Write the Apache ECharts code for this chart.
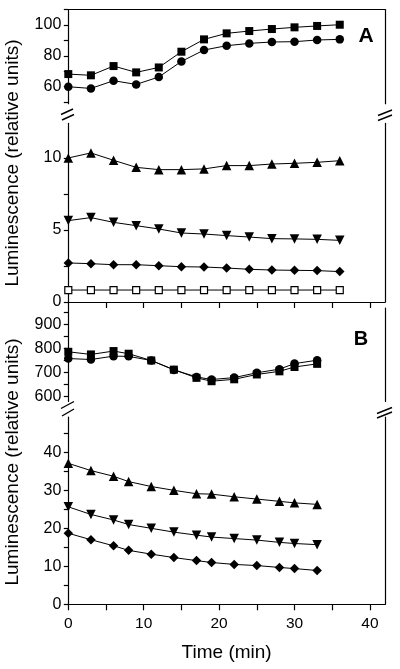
<!DOCTYPE html>
<html>
<head>
<meta charset="utf-8">
<script src="https://cdn.jsdelivr.net/npm/echarts@6/dist/echarts.min.js"></script>
<style>html,body{margin:0;padding:0;background:#fff}#c{width:400px;height:669px}</style>
</head>
<body>
<div id="c"></div>
<script>
// ---- data ----
const timeA = [0, 3, 6, 9, 12, 15, 18, 21, 24, 27, 30, 33, 36];
const timeB = [0, 3, 6, 8, 11, 14, 17, 19, 22, 25, 28, 30, 33];

const aSquares  = [68.2, 67.4, 73.4, 69.3, 72.5, 82.7, 90.7, 94.6, 96.1, 97.4, 98.5, 99.4, 100.2];
const aCircles  = [60.0, 58.9, 63.9, 61.5, 66.3, 76.4, 83.8, 86.6, 88.1, 89.0, 89.2, 90.3, 90.7];
const aTriUp    = [10.0, 10.35, 9.84, 9.35, 9.19, 9.19, 9.24, 9.47, 9.47, 9.58, 9.63, 9.70, 9.81];
const aTriDown  = [5.65, 5.86, 5.53, 5.30, 5.07, 4.79, 4.72, 4.61, 4.51, 4.40, 4.38, 4.35, 4.28];
const aDiamonds = [2.71, 2.66, 2.59, 2.59, 2.52, 2.45, 2.43, 2.36, 2.27, 2.22, 2.20, 2.18, 2.11];
const aOpenSq   = [0.83, 0.83, 0.83, 0.83, 0.83, 0.83, 0.83, 0.83, 0.83, 0.83, 0.83, 0.83, 0.83];

const bSquares  = [786, 775, 789, 778, 750, 712, 678, 664, 672, 692, 705, 723, 736];
const bCircles  = [758, 754, 768, 767, 750, 711, 682, 671, 679, 699, 714, 737, 751];
const bTriUp    = [37.1, 35.2, 33.7, 32.3, 31.0, 30.0, 29.1, 29.0, 28.3, 27.7, 27.1, 26.7, 26.3];
const bTriDown  = [25.65, 23.65, 22.2, 21.0, 20.0, 19.0, 18.2, 17.7, 17.3, 16.9, 16.3, 16.0, 15.7];
const bDiamonds = [18.7, 17.0, 15.4, 14.2, 13.2, 12.3, 11.5, 11.0, 10.5, 10.2, 9.7, 9.4, 8.9];

const xTicks = [0, 5, 10, 15, 20, 25, 30, 35, 40];
const xLabels = [0, 10, 20, 30, 40];
const aUpTicks = [50, 60, 70, 80, 90, 100, 110];
const aUpLabels = [60, 80, 100];
const aLoTicks = [0, 2.5, 5, 7.5, 10];
const aLoLabels = [0, 5, 10];
const bUpTicks = [600, 650, 700, 750, 800, 850, 900, 950];
const bUpLabels = [600, 700, 800, 900];
const bLoTicks = [0, 5, 10, 15, 20, 25, 30, 35, 40, 45];
const bLoLabels = [0, 10, 20, 30, 40];

const yTitle = 'Luminescence (relative units)';
const xTitle = 'Time (min)';

// ---- chart ----
const FONT = '"Liberation Sans", Arial, Helvetica, sans-serif';
const black = '#000';
const chart = echarts.init(document.getElementById('c'), null, {renderer: 'canvas'});

const pair = (xs, ys) => xs.map((x, i) => [x, ys[i]]);

const gridL = 68.3, gridW = 316.7;
const grids = [
  {left: gridL, width: gridW, top: 9.6, height: 94.1},
  {left: gridL, width: gridW, top: 123.4, height: 178.6},
  {left: gridL, width: gridW, top: 308.1, height: 93.4},
  {left: gridL, width: gridW, top: 417.0, height: 187.3}
];

const lineCommon = {show: true, onZero: false, lineStyle: {color: black, width: 1.2}};

function xAx(gi, opts) {
  return Object.assign({
    type: 'value', gridIndex: gi, min: 0, max: 42, position: 'bottom',
    axisLine: lineCommon,
    axisTick: {show: true, inside: false, length: 6, customValues: xTicks, lineStyle: {color: black, width: 1.2}},
    axisLabel: {show: false},
    splitLine: {show: false}
  }, opts);
}
function yAx(gi, min, max, ticks, labels) {
  return {
    type: 'value', gridIndex: gi, min: min, max: max, position: 'left',
    axisLine: lineCommon,
    axisTick: {show: true, inside: false, length: 4.5, customValues: ticks, lineStyle: {color: black, width: 1.2}},
    axisLabel: {show: true, customValues: labels, margin: 7, color: black, fontSize: 16, fontFamily: FONT},
    splitLine: {show: false}
  };
}
function yRight(gi, min, max) {
  return {
    type: 'value', gridIndex: gi, min: min, max: max, position: 'right',
    axisLine: lineCommon, axisTick: {show: false}, axisLabel: {show: false}, splitLine: {show: false}
  };
}

const xAxes = [
  xAx(0, {position: 'top', axisTick: {show: false}}),
  xAx(1, {}),
  xAx(2, {show: false}),
  xAx(3, {
    axisLabel: {show: true, customValues: xLabels, margin: 11, color: black, fontSize: 15.5, fontFamily: FONT},
    name: xTitle, nameLocation: 'middle', nameGap: 39,
    nameTextStyle: {color: black, fontSize: 19, fontFamily: FONT}
  })
];
const yAxes = [
  yAx(0, 49, 110, aUpTicks, aUpLabels), yRight(0, 49, 110),
  yAx(1, 0, 12.4, aLoTicks, aLoLabels), yRight(1, 0, 12.4),
  yAx(2, 580, 967, bUpTicks, bUpLabels), yRight(2, 580, 967),
  yAx(3, 0, 49.3, bLoTicks, bLoLabels), yRight(3, 0, 49.3)
];

function ser(xi, yi, data, symbol, size, opts) {
  return Object.assign({
    type: 'line', xAxisIndex: xi, yAxisIndex: yi, data: data,
    symbol: symbol, symbolSize: size, showSymbol: true,
    lineStyle: {color: black, width: 1},
    itemStyle: {color: black, borderColor: black, borderWidth: 0, opacity: 1},
    emphasis: {disabled: true}, animation: false
  }, opts || {});
}

const series = [
  ser(0, 0, pair(timeA, aSquares), 'rect', 8),
  ser(0, 0, pair(timeA, aCircles), 'circle', 8.5),
  ser(1, 2, pair(timeA, aTriUp), 'triangle', 9.5),
  ser(1, 2, pair(timeA, aTriDown), 'triangle', 9.5, {symbolRotate: 180}),
  ser(1, 2, pair(timeA, aDiamonds), 'diamond', 9.5),
  ser(1, 2, pair(timeA, aOpenSq), 'rect', 7, {itemStyle: {color: '#fff', borderColor: black, borderWidth: 1.2}}),
  ser(2, 4, pair(timeB, bSquares), 'rect', 8),
  ser(2, 4, pair(timeB, bCircles), 'circle', 8.5),
  ser(3, 6, pair(timeB, bTriUp), 'triangle', 9.5),
  ser(3, 6, pair(timeB, bTriDown), 'triangle', 9.5, {symbolRotate: 180}),
  ser(3, 6, pair(timeB, bDiamonds), 'diamond', 9.5)
];

function slash(x1, y1, x2, y2) {
  return {type: 'line', shape: {x1: x1, y1: y1, x2: x2, y2: y2}, style: {stroke: black, lineWidth: 1.4}, silent: true, z: 100};
}

const graphic = [
  // axis break marks
  slash(61, 114.5, 73, 109), slash(62, 120, 74, 114.5),
  slash(378, 115.5, 392, 110), slash(378, 120.5, 392, 115),
  slash(61, 408.5, 74, 401.5), slash(62, 416, 74, 409),
  slash(377, 413.5, 392, 407.5), slash(377, 418, 392, 412),
  // panel letters
  {type: 'text', x: 366, y: 36, silent: true, z: 100,
   style: {text: 'A', font: 'bold 21px ' + FONT, fill: black, align: 'center', verticalAlign: 'middle'}},
  {type: 'text', x: 361, y: 339, silent: true, z: 100,
   style: {text: 'B', font: 'bold 20px ' + FONT, fill: black, align: 'center', verticalAlign: 'middle'}},
  // y titles
  {type: 'text', x: 13, y: 163, rotation: Math.PI / 2, silent: true, z: 100,
   style: {text: yTitle, font: '19px ' + FONT, fill: black, align: 'center', verticalAlign: 'middle'}},
  {type: 'text', x: 13, y: 462, rotation: Math.PI / 2, silent: true, z: 100,
   style: {text: yTitle, font: '19px ' + FONT, fill: black, align: 'center', verticalAlign: 'middle'}}
];

chart.setOption({
  animation: false,
  backgroundColor: '#fff',
  grid: grids,
  xAxis: xAxes,
  yAxis: yAxes,
  series: series,
  graphic: graphic
});
</script>
</body>
</html>
